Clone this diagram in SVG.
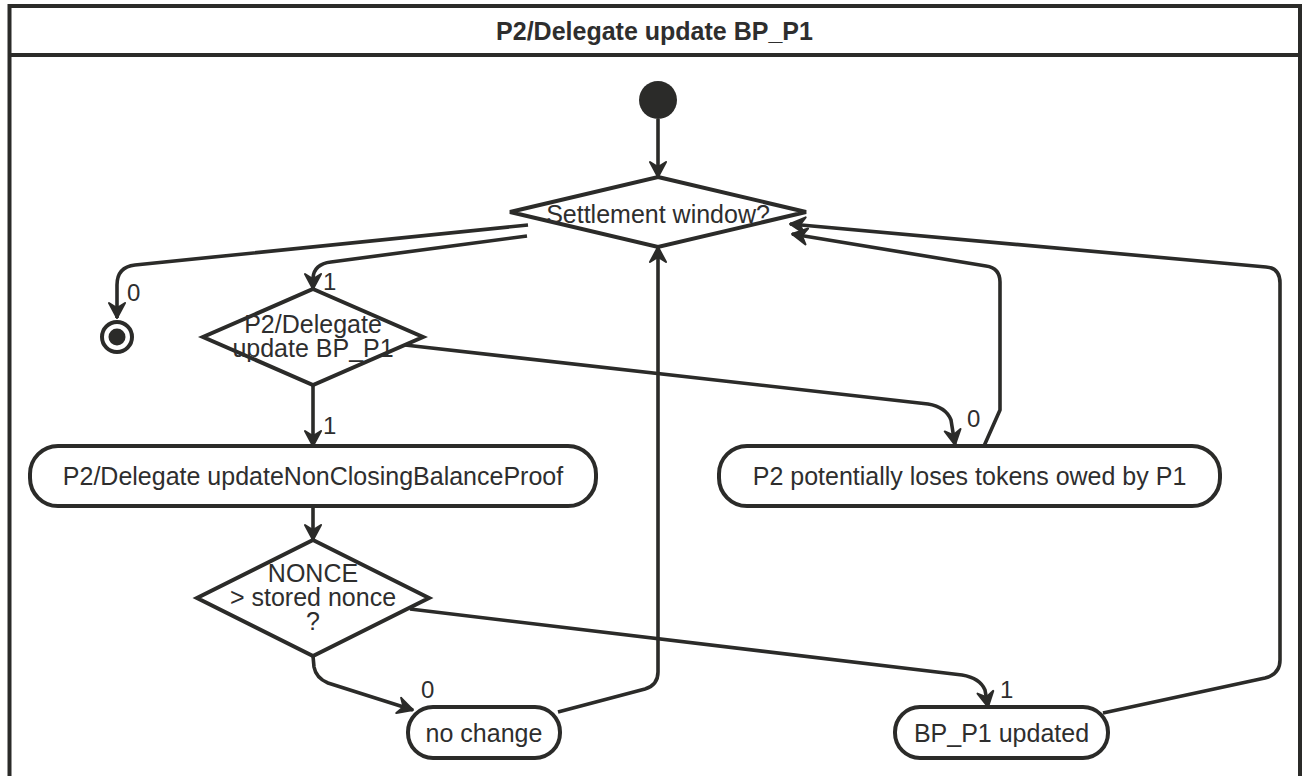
<svg xmlns="http://www.w3.org/2000/svg" width="1302" height="776" viewBox="0 0 1302 776">
  <style>
    .frame { fill: #ffffff; stroke: #2b2b29; stroke-width: 4; }
    .node { fill: #ffffff; stroke: #2b2b29; stroke-width: 4; stroke-linejoin: miter; }
    .solid { fill: #2b2b29; }
    .edge { fill: none; stroke: #2b2b29; stroke-width: 3.6; stroke-linejoin: round; }
    .txt { font-family: "Liberation Sans", Arial, Helvetica, sans-serif; font-size: 25px; fill: #2e2e2e; text-anchor: middle; }
    .title { font-weight: bold; }
    .lbl { font-family: "Liberation Sans", Arial, Helvetica, sans-serif; font-size: 24px; fill: #2e2e2e; }
  </style>
  <defs>
    <marker id="arrow" viewBox="-17 -10 20 20" refX="0" refY="0" markerWidth="20" markerHeight="20" markerUnits="userSpaceOnUse" orient="auto">
      <path d="M 0 0 L -15 -8 L -10 0 L -15 8 Z" fill="#2b2b29" stroke="#2b2b29" stroke-width="2" stroke-linejoin="round"/>
    </marker>
  </defs>

  <rect x="0" y="0" width="1302" height="776" fill="#ffffff"/>

  <!-- frame with title compartment -->
  <g id="frame">
    <rect class="frame" x="9.5" y="6" width="1290.5" height="790"/>
    <line x1="9.5" y1="55" x2="1300" y2="55" stroke="#2b2b29" stroke-width="4"/>
    <text class="txt title" x="654.5" y="40">P2/Delegate update BP_P1</text>
  </g>

  <!-- transitions -->
  <g id="connectors">
    <path class="edge" d="M 658 119 L 658 177" marker-end="url(#arrow)"/>
    <path class="edge" d="M 528 225 L 135 265 Q 117 267 117 285 L 117 318" marker-end="url(#arrow)"/>
    <path class="edge" d="M 527 236 L 331 262 Q 314 264 313 278 L 313 289" marker-end="url(#arrow)"/>
    <path class="edge" d="M 313 385 L 313 446" marker-end="url(#arrow)"/>
    <path class="edge" d="M 405 345 L 928 404 Q 946 407 951 420 L 955 445" marker-end="url(#arrow)"/>
    <path class="edge" d="M 984 446 L 1000 410 L 1000 282 Q 1000 268 986 266 L 792 234" marker-end="url(#arrow)"/>
    <path class="edge" d="M 313 506 L 313 540" marker-end="url(#arrow)"/>
    <path class="edge" d="M 313 656 L 314 667 Q 316 678 328 683 L 413 710" marker-end="url(#arrow)"/>
    <path class="edge" d="M 410 609 L 962 675 Q 980 678 985 690 L 988 707" marker-end="url(#arrow)"/>
    <path class="edge" d="M 558 712 L 645 689 Q 658 685 658 672 L 658 247" marker-end="url(#arrow)"/>
    <path class="edge" d="M 1103 713 L 1265 678 Q 1280 674 1280 660 L 1280 283 Q 1280 268 1266 267 L 790 224" marker-end="url(#arrow)"/>

    <text class="lbl" x="127" y="301">0</text>
    <text class="lbl" x="323" y="290">1</text>
    <text class="lbl" x="323" y="434">1</text>
    <text class="lbl" x="967" y="427">0</text>
    <text class="lbl" x="421" y="698">0</text>
    <text class="lbl" x="1000" y="698">1</text>
  </g>

  <g id="start">
    <circle class="solid" cx="658" cy="100" r="19"/>
  </g>

  <g id="settlement-window">
    <path class="node" d="M 658 177 L 806 212 L 658 247 L 510 212 Z"/>
    <text class="txt" x="658" y="223">Settlement window?</text>
  </g>

  <g id="final">
    <circle cx="117" cy="337" r="15" fill="#ffffff" stroke="#2b2b29" stroke-width="4"/>
    <circle class="solid" cx="117" cy="337" r="8.5"/>
  </g>

  <g id="delegate-update">
    <path class="node" d="M 313 289 L 423 337 L 313 385 L 203 337 Z"/>
    <text class="txt" x="313" y="333">P2/Delegate</text>
    <text class="txt" x="313" y="357">update BP_P1</text>
  </g>

  <g id="update-nonclosing">
    <rect class="node" x="30" y="446" width="566" height="60" rx="28" ry="28"/>
    <text class="txt" x="313" y="485">P2/Delegate updateNonClosingBalanceProof</text>
  </g>

  <g id="loses-tokens">
    <rect class="node" x="719" y="446" width="501" height="60" rx="28" ry="28"/>
    <text class="txt" x="969.5" y="485">P2 potentially loses tokens owed by P1</text>
  </g>

  <g id="nonce-check">
    <path class="node" d="M 313 540 L 429 598 L 313 656 L 197 598 Z"/>
    <text class="txt" x="313" y="582">NONCE</text>
    <text class="txt" x="313" y="606">&gt; stored nonce</text>
    <text class="txt" x="313" y="630">?</text>
  </g>

  <g id="no-change">
    <rect class="node" x="408" y="707" width="152" height="51" rx="25" ry="25"/>
    <text class="txt" x="484" y="742">no change</text>
  </g>

  <g id="bp-updated">
    <rect class="node" x="895" y="707" width="213" height="51" rx="25" ry="25"/>
    <text class="txt" x="1001.5" y="742">BP_P1 updated</text>
  </g>
</svg>
